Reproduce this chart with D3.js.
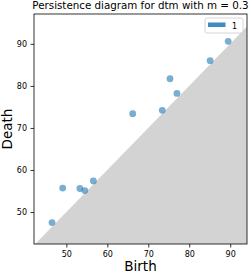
<!DOCTYPE html>
<html>
<head>
<meta charset="utf-8">
<script src="https://cdn.jsdelivr.net/npm/d3@7"></script>
<style>
  body { margin: 0; background: #fff; }
  text { font-family: "DejaVu Sans", sans-serif; }
</style>
</head>
<body>
<div id="chart"></div>
<script>
// persistence pairs (dimension 1)
const birth = [46.5, 49.1, 53.3, 54.5, 56.6, 66.2, 73.4, 75.3, 77.0, 85.1, 89.5];
const death = [47.5, 55.7, 55.6, 55.1, 57.4, 73.4, 74.2, 81.7, 78.2, 86.0, 90.6];
const xTicks = [50, 60, 70, 80, 90];
const yTicks = [50, 60, 70, 80, 90];
const legendLabels = ["1"];

const width = 249, height = 273;
const margin = {top: 14, right: 2, bottom: 29, left: 34};
const w = width - margin.left - margin.right;
const h = height - margin.top - margin.bottom;

const svg = d3.select("#chart").append("svg")
    .attr("width", width)
    .attr("height", height);

const x = d3.scaleLinear().domain([42.1, 94.1]).range([0, w]);
const y = d3.scaleLinear().domain([42.4, 97.1]).range([h, 0]);

const g = svg.append("g")
    .attr("transform", "translate(" + margin.left + "," + margin.top + ")");

g.append("clipPath").attr("id", "clip")
  .append("rect").attr("width", w).attr("height", h);

// diagonal area below y = x
const lo = Math.min(x.domain()[0], y.domain()[0]);
const hi = x.domain()[1];
g.append("path")
    .attr("clip-path", "url(#clip)")
    .attr("d", d3.line()([[x(lo), y(lo)], [x(hi), y(hi)], [x(hi), y(lo)]]) + "Z")
    .attr("fill", "#d3d3d3");

g.append("g")
  .selectAll("circle")
  .data(birth)
  .join("circle")
    .attr("cx", d => x(d))
    .attr("cy", (d, i) => y(death[i]))
    .attr("r", 3.4)
    .attr("fill", "#1f77b4")
    .attr("fill-opacity", 0.6);

// axes
const xAxis = g.append("g")
    .attr("transform", "translate(0," + h + ")")
    .call(d3.axisBottom(x).tickValues(xTicks).tickSize(3.5).tickPadding(3.5));
const yAxis = g.append("g")
    .call(d3.axisLeft(y).tickValues(yTicks).tickSize(3.5).tickPadding(3.5));

[xAxis, yAxis].forEach(a => {
  a.selectAll("text").style("font-size", "8px").attr("fill", "#000");
  a.select(".domain").remove();
  a.selectAll(".tick line").attr("stroke", "#000").attr("stroke-width", 0.8);
});

// frame
g.append("rect")
    .attr("width", w)
    .attr("height", h)
    .attr("fill", "none")
    .attr("stroke", "#000")
    .attr("stroke-width", 0.8);

// legend
const leg = g.append("g").attr("transform", "translate(" + (w - 42) + ",4)");
leg.append("rect")
    .attr("width", 38).attr("height", 15).attr("rx", 2)
    .attr("fill", "#fff").attr("fill-opacity", 0.8)
    .attr("stroke", "#ccc").attr("stroke-width", 0.8);
leg.selectAll(".patch")
  .data(legendLabels)
  .join("rect")
    .attr("class", "patch")
    .attr("x", 3).attr("y", 4.5)
    .attr("width", 17.5).attr("height", 4.5)
    .attr("fill", "#1f77b4").attr("fill-opacity", 0.85);
leg.selectAll(".lab")
  .data(legendLabels)
  .join("text")
    .attr("class", "lab")
    .attr("x", 27).attr("y", 10.5)
    .style("font-size", "8px")
    .text(d => d);

// titles
svg.append("text")
    .attr("x", margin.left + w / 2)
    .attr("y", 9)
    .attr("text-anchor", "middle")
    .style("font-size", "10.3px")
    .text("Persistence diagram for dtm with m = 0.3");

svg.append("text")
    .attr("x", margin.left + w / 2)
    .attr("y", 270.5)
    .attr("text-anchor", "middle")
    .style("font-size", "13.5px")
    .text("Birth");

svg.append("text")
    .attr("transform", "translate(12," + (margin.top + h / 2) + ") rotate(-90)")
    .attr("text-anchor", "middle")
    .style("font-size", "13.5px")
    .text("Death");
</script>
</body>
</html>
